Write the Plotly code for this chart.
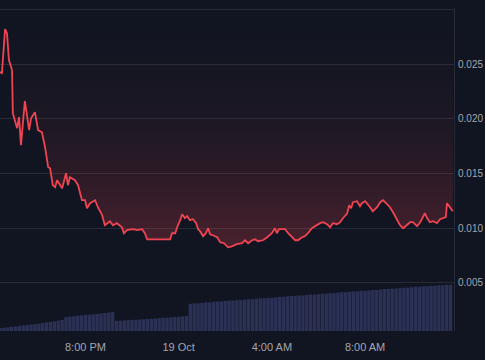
import pandas as pd
import plotly.graph_objects as go

# ---------------- data ----------------
start_time = "2023-10-18 16:20"
end_time = "2023-10-19 11:49"

# price samples: minutes after start_time, and price
price_minutes = [0, 5, 13, 18, 23, 28, 31, 33, 39, 44, 49, 54, 64, 75, 80, 90, 98, 108, 116, 124,
                 129, 136, 142, 147, 160, 170, 175, 180, 193, 201, 211, 219, 224, 232, 245, 252, 263, 270, 283, 291,
                 301, 314, 319, 327, 342, 353, 366, 373, 379, 412, 438, 443, 451, 458, 464, 469, 476, 482, 489, 497,
                 505, 510, 515, 523, 530, 536, 541, 548, 559, 567, 577, 587, 597, 610, 623, 631, 639, 649, 657, 664,
                 677, 688, 700, 708, 713, 718, 734, 742, 752, 760, 767, 778, 785, 793, 803, 811, 824, 832, 842, 850,
                 857, 868, 876, 883, 894, 899, 904, 909, 919, 927, 932, 940, 945, 953, 960, 971, 979, 986, 994, 1004,
                 1012, 1022, 1030, 1038, 1048, 1056, 1063, 1074, 1082, 1089, 1094, 1100, 1107, 1115, 1125, 1133, 1141, 1148, 1151, 1159,
                 1166]
price = [0.02426, 0.02417, 0.02819, 0.02782, 0.02536, 0.02490, 0.02444, 0.02051, 0.01987, 0.01914,
         0.02015, 0.01759, 0.02161, 0.01896, 0.02005, 0.02060, 0.01896, 0.01877, 0.01740, 0.01558,
         0.01548, 0.01393, 0.01375, 0.01439, 0.01366, 0.01503, 0.01393, 0.01466, 0.01439, 0.01393,
         0.01256, 0.01256, 0.01183, 0.01229, 0.01256, 0.01192, 0.01119, 0.01027, 0.01064, 0.01027,
         0.01046, 0.01009, 0.00954, 0.00982, 0.00991, 0.00982, 0.00991, 0.00954, 0.00899, 0.00899,
         0.00899, 0.00954, 0.00954, 0.01027, 0.01073, 0.01128, 0.01091, 0.01110, 0.01073, 0.01082,
         0.01046, 0.00991, 0.00973, 0.00927, 0.00954, 0.01000, 0.00945, 0.00936, 0.00918, 0.00872,
         0.00863, 0.00826, 0.00835, 0.00854, 0.00863, 0.00890, 0.00863, 0.00890, 0.00899, 0.00881,
         0.00890, 0.00918, 0.00954, 0.01000, 0.00954, 0.00991, 0.00991, 0.00954, 0.00918, 0.00890,
         0.00890, 0.00918, 0.00927, 0.00954, 0.01000, 0.01018, 0.01046, 0.01055, 0.01037, 0.01009,
         0.01046, 0.01037, 0.01055, 0.01091, 0.01137, 0.01210, 0.01183, 0.01238, 0.01247, 0.01201,
         0.01229, 0.01247, 0.01229, 0.01192, 0.01155, 0.01192, 0.01238, 0.01256, 0.01229, 0.01192,
         0.01146, 0.01082, 0.01027, 0.01000, 0.01027, 0.01055, 0.01055, 0.01018, 0.01055, 0.01101,
         0.01137, 0.01091, 0.01055, 0.01064, 0.01046, 0.01082, 0.01091, 0.01101, 0.01229, 0.01192,
         0.01155]

# volume bars (millions), one per 10 minutes from start_time
volume = [0.065, 0.07, 0.08, 0.09, 0.10, 0.11, 0.12, 0.13, 0.14, 0.15, 0.16, 0.175, 0.19, 0.20, 0.21, 0.225, 0.24,
          0.30, 0.31, 0.32, 0.33, 0.34, 0.35, 0.355, 0.36, 0.37, 0.38, 0.39, 0.40, 0.41,
          0.22, 0.225, 0.23, 0.235, 0.24, 0.245, 0.25, 0.255, 0.26, 0.265, 0.27, 0.28, 0.285, 0.29, 0.30, 0.305,
          0.31, 0.32, 0.33,
          0.59, 0.60, 0.60, 0.61, 0.62, 0.62, 0.63, 0.64, 0.64, 0.65,
          0.66, 0.66, 0.67, 0.67, 0.68, 0.69, 0.69, 0.70, 0.71, 0.71,
          0.72, 0.72, 0.73, 0.74, 0.74, 0.75, 0.76, 0.76, 0.77, 0.77,
          0.78, 0.79, 0.79, 0.80, 0.81, 0.81, 0.82, 0.82, 0.83, 0.84,
          0.84, 0.85, 0.86, 0.86, 0.87, 0.87, 0.88, 0.89, 0.89, 0.90,
          0.91, 0.91, 0.92, 0.92, 0.93, 0.94, 0.94, 0.95, 0.96, 0.96,
          0.97, 0.97, 0.98, 0.98, 0.99, 0.99, 1.00, 1.00]

x_tick_times = ["2023-10-18 20:00", "2023-10-19 00:00", "2023-10-19 04:00", "2023-10-19 08:00"]
x_tick_labels = ["8:00 PM", "19 Oct", "4:00 AM", "8:00 AM"]
y_tick_values = [0.005, 0.010, 0.015, 0.020, 0.025, 0.030]
y_tick_labels = ["0.005", "0.010", "0.015", "0.020", "0.025", ""]

# ---------------- figure ----------------
BG = "#111521"
GRID = "#272b37"
RED = "#ef4452"
Y_TOP = 0.03012
Y_BOTTOM = 0.00061

t0 = pd.Timestamp(start_time)
price_times = [t0 + pd.Timedelta(minutes=m) for m in price_minutes]
volume_times = pd.date_range(t0, periods=len(volume), freq="10min")

fig = go.Figure()

fig.add_trace(go.Bar(
    x=volume_times, y=volume, yaxis="y2",
    marker=dict(color="#2b3055", line=dict(width=0)),
    hoverinfo="skip", showlegend=False,
))

# helper boundary at the top of the price axis for the fill above the line
fig.add_trace(go.Scatter(
    x=price_times, y=[Y_TOP] * len(price_times), mode="lines",
    line=dict(width=0, color="rgba(0,0,0,0)"), hoverinfo="skip", showlegend=False,
))

fig.add_trace(go.Scatter(
    x=price_times, y=price, mode="lines",
    line=dict(color=RED, width=1.8),
    fill="tonexty",
    fillgradient=dict(
        type="vertical",
        colorscale=[[0, "rgba(239,68,82,0.25)"], [0.33, "rgba(239,68,82,0.12)"],
                    [0.58, "rgba(239,68,82,0.05)"], [0.83, "rgba(239,68,82,0.015)"],
                    [1, "rgba(239,68,82,0.0)"]],
        start=0.0082, stop=0.0285,
    ),
    showlegend=False,
))

fig.update_layout(
    width=485, height=360,
    margin=dict(l=0, r=31, t=8, b=29, autoexpand=False),
    paper_bgcolor=BG, plot_bgcolor=BG,
    bargap=0.12,
    font=dict(family="Liberation Sans, Arial, sans-serif", size=11, color="#a2a6b0"),
    xaxis=dict(
        type="date", range=[start_time, end_time], automargin=False,
        tickvals=x_tick_times, ticktext=x_tick_labels,
        showgrid=False, zeroline=False, showline=False,
        ticks="outside", ticklen=6, tickcolor="rgba(0,0,0,0)",
        tickfont=dict(size=11, color="#a2a6b0"),
    ),
    yaxis=dict(
        side="right", range=[Y_BOTTOM, Y_TOP], automargin=False,
        tickvals=y_tick_values, ticktext=y_tick_labels,
        showgrid=True, gridcolor=GRID, gridwidth=1,
        zeroline=False, showline=True, linecolor=GRID, linewidth=1,
        ticks="outside", ticklen=1, tickcolor="rgba(0,0,0,0)",
        tickfont=dict(size=10, color="#a2a6b0"),
    ),
    yaxis2=dict(
        overlaying="y", range=[0, 7], visible=False,
    ),
)

fig.write_html(
    "out.html",
    config={"displayModeBar": False},
    post_script="document.body.style.margin='0';document.body.style.padding='0';"
                "document.body.style.background='#111521';",
)
